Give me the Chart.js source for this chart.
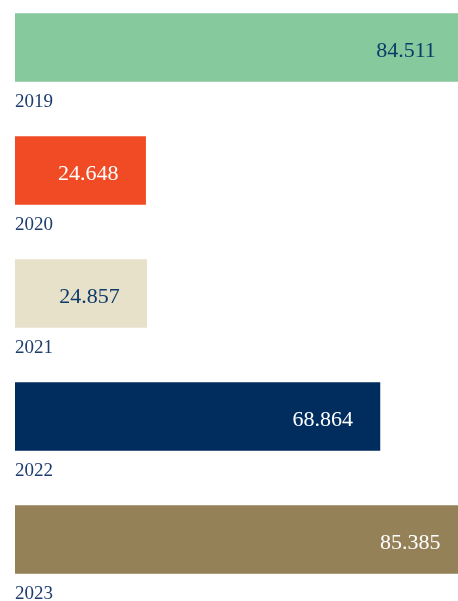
<!DOCTYPE html>
<html>
<head>
<meta charset="utf-8">
<script src="https://cdn.jsdelivr.net/npm/chart.js@4.4.1/dist/chart.umd.min.js"></script>
<style>
  html, body { margin: 0; padding: 0; background: #ffffff; }
  #wrap { position: relative; width: 458px; height: 601px; overflow: hidden; }
  #c { position: absolute; left: 0; top: -14px; }
</style>
</head>
<body>
<div id="wrap"><canvas id="c" width="458" height="615"></canvas></div>
<script>
const categories = ["2019", "2020", "2021", "2022", "2023"];
const values = [84.511, 24.648, 24.857, 68.864, 85.385];
const valueLabels = ["84.511", "24.648", "24.857", "68.864", "85.385"];
const barColors = ["#86c99c", "#f14b25", "#e7e1c9", "#002d5e", "#958157"];
const valueTextColors = ["#0e3a6a", "#ffffff", "#0e3a6a", "#ffffff", "#ffffff"];

const labelPlugin = {
  id: 'barLabels',
  afterDatasetsDraw(chart) {
    const ctx = chart.ctx;
    const meta = chart.getDatasetMeta(0);
    ctx.save();
    meta.data.forEach((bar, i) => {
      const half = bar.height / 2;
      // value label inside bar end
      ctx.font = '22px "Liberation Serif", "DejaVu Serif", serif';
      ctx.fillStyle = valueTextColors[i];
      ctx.textAlign = 'right';
      ctx.textBaseline = 'alphabetic';
      ctx.fillText(valueLabels[i], bar.x - 27, bar.y + 9);
      // category label below bar
      ctx.font = '19px "Liberation Serif", "DejaVu Serif", serif';
      ctx.fillStyle = '#1c3d6e';
      ctx.textAlign = 'left';
      ctx.fillText(categories[i], chart.chartArea.left, bar.y + half + 25);
    });
    ctx.restore();
  }
};

new Chart(document.getElementById('c'), {
  type: 'bar',
  data: {
    labels: categories,
    datasets: [{
      data: values,
      backgroundColor: barColors,
      borderWidth: 0,
      barThickness: 68
    }]
  },
  options: {
    indexAxis: 'y',
    responsive: false,
    animation: false,
    layout: { padding: { left: 15, right: 0, top: 0, bottom: 0 } },
    plugins: { legend: { display: false }, tooltip: { enabled: false } },
    scales: {
      x: { display: false, min: 0, max: 83.6, grid: { display: false } },
      y: { display: false, grid: { display: false } }
    }
  },
  plugins: [labelPlugin]
});
</script>
</body>
</html>
